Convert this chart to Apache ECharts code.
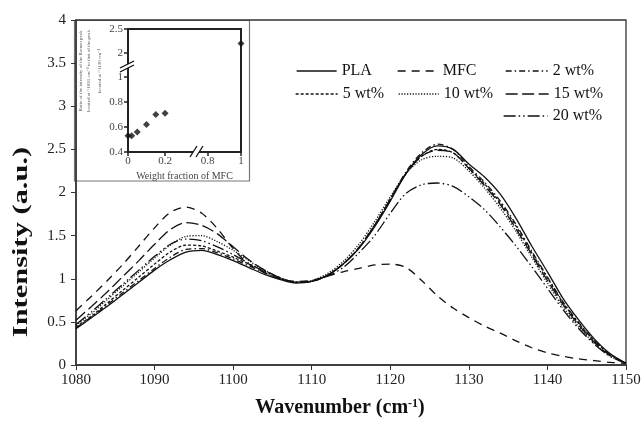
<!DOCTYPE html>
<html>
<head>
<meta charset="utf-8">
<script src="https://cdn.jsdelivr.net/npm/echarts@6/dist/echarts.min.js"></script>
<style>html,body{margin:0;padding:0;background:#fff}#c{width:644px;height:422px}</style>
</head>
<body>
<div id="c"></div>
<script>
// ---------- data ----------
const wavenumbers = [1080,1082,1084,1086,1088,1090,1092,1094,1096,1098,1100,1102,1104,1106,1108,1110,1112,1114,1116,1118,1120,1122,1124,1126,1128,1130,1132,1134,1136,1138,1140,1142,1144,1146,1148,1150];
const seriesNames = ['PLA','MFC','2 wt%','5 wt%','10 wt%','15 wt%','20 wt%'];
const pla    = [0.42,0.55,0.68,0.82,0.96,1.10,1.22,1.31,1.33,1.28,1.21,1.13,1.05,0.99,0.95,0.97,1.04,1.17,1.35,1.60,1.90,2.22,2.44,2.54,2.50,2.33,2.18,1.98,1.70,1.38,1.08,0.77,0.52,0.30,0.13,0.02];
const mfc    = [0.63,0.80,0.98,1.17,1.38,1.59,1.77,1.83,1.76,1.58,1.35,1.17,1.07,1.00,0.97,0.98,1.03,1.08,1.12,1.16,1.17,1.13,0.98,0.80,0.66,0.55,0.45,0.37,0.28,0.20,0.14,0.10,0.07,0.05,0.03,0.02];
const wt2    = [0.43,0.56,0.70,0.84,0.98,1.12,1.25,1.34,1.35,1.30,1.23,1.15,1.07,1.00,0.96,0.97,1.04,1.17,1.36,1.62,1.92,2.24,2.46,2.56,2.50,2.30,2.12,1.90,1.63,1.32,1.02,0.73,0.49,0.28,0.12,0.02];
const wt5    = [0.44,0.57,0.72,0.87,1.02,1.17,1.31,1.39,1.38,1.32,1.25,1.17,1.09,1.01,0.96,0.97,1.04,1.17,1.36,1.62,1.92,2.22,2.42,2.50,2.46,2.28,2.10,1.88,1.61,1.30,1.01,0.72,0.48,0.28,0.12,0.02];
const wt10   = [0.46,0.60,0.76,0.92,1.08,1.24,1.39,1.49,1.50,1.43,1.33,1.21,1.10,1.01,0.96,0.98,1.06,1.20,1.40,1.66,1.95,2.22,2.38,2.42,2.40,2.25,2.05,1.82,1.55,1.25,0.95,0.67,0.44,0.25,0.10,0.02];
const wt15   = [0.52,0.68,0.85,1.03,1.21,1.40,1.57,1.65,1.62,1.52,1.37,1.22,1.10,1.01,0.96,0.97,1.04,1.17,1.36,1.62,1.92,2.22,2.42,2.49,2.46,2.28,2.08,1.86,1.58,1.28,0.98,0.70,0.46,0.26,0.11,0.02];
const wt20   = [0.47,0.62,0.78,0.94,1.10,1.26,1.40,1.46,1.44,1.37,1.28,1.18,1.08,1.00,0.96,0.97,1.03,1.13,1.30,1.50,1.76,1.99,2.09,2.11,2.07,1.95,1.80,1.60,1.38,1.14,0.89,0.64,0.42,0.24,0.10,0.02];
const xTickMin = 1080, xTickMax = 1150, xTickStep = 10;
const yTickMin = 0, yTickMax = 4, yTickStep = 0.5;

// inset
const mfcFraction = [0, 0.02, 0.05, 0.1, 0.15, 0.2, 1];
const peakRatio   = [0.53, 0.53, 0.56, 0.62, 0.70, 0.71, 2.2];
const insetXTicks = [0, 0.2, 0.8, 1];
const insetYTicks = [0.4, 0.6, 0.8, 1, 2, 2.5];

// ---------- styles ----------
const SERIF = '"Liberation Serif","DejaVu Serif",serif';
const dashes = {
  'PLA': 'solid',
  'MFC': [8,6],
  '2 wt%': [6,3,1.5,3],
  '5 wt%': [3,2],
  '10 wt%': [1.2,1.6],
  '15 wt%': [12,4.5],
  '20 wt%': [12,3,1.5,3,1.5,3]
};
const allValues = [pla, mfc, wt2, wt5, wt10, wt15, wt20];

// broken-axis transforms for the inset
function ix(v){ return v <= 0.5 ? v : 0.43 + (v - 0.8) * 0.9; }
function iy(v){ return v <= 1.5 ? v : 1.192 + (v - 2) * 0.384; }

const series = seriesNames.map((n, i) => ({
  name: n, type: 'line', xAxisIndex: 0, yAxisIndex: 0,
  data: wavenumbers.map((w, k) => [w, allValues[i][k]]),
  smooth: 0.3, symbol: 'none', silent: true,
  itemStyle: { color: '#111' },
  lineStyle: { color: '#111', width: 1.3, type: dashes[n] }
}));
series.push({
  type: 'scatter', xAxisIndex: 1, yAxisIndex: 1, symbol: 'diamond', symbolSize: 7,
  itemStyle: { color: '#111' }, silent: true,
  data: mfcFraction.map((f, k) => [ix(f), iy(peakRatio[k])])
});

const legendPos = [
  ['PLA', 296, 63, 40], ['MFC', 397, 63, 40], ['2 wt%', 505, 63, 42],
  ['5 wt%', 295, 86, 42], ['10 wt%', 398, 86, 40], ['15 wt%', 505, 86, 43],
  ['20 wt%', 503, 108, 44]
];
const legends = legendPos.map(p => ({
  data: [p[0]], left: p[1], top: p[2], itemWidth: p[3], itemHeight: 14, padding: 0,
  selectedMode: false,
  itemStyle: { opacity: 0 },
  lineStyle: { color: '#111', width: 1.3, opacity: 1 },
  textStyle: { fontFamily: SERIF, fontSize: 16, color: '#111' }
}));

const insetXVals = insetXTicks.map(ix);
const insetYVals = insetYTicks.map(iy);

const option = {
  animation: false,
  backgroundColor: '#fff',
  legend: legends,
  grid: [
    { left: 76, right: 18, top: 20, bottom: 57, show: true, borderColor: '#333', borderWidth: 1.3, backgroundColor: 'transparent' },
    { left: 128, top: 29, width: 113, height: 123, show: true, borderColor: '#222', borderWidth: 2, backgroundColor: 'transparent' }
  ],
  xAxis: [
    { type: 'value', gridIndex: 0, min: xTickMin, max: xTickMax, interval: xTickStep,
      axisLine: { lineStyle: { color: '#333', width: 1.5 } },
      axisTick: { length: 5, lineStyle: { color: '#333' } },
      splitLine: { show: false },
      axisLabel: { fontFamily: SERIF, fontSize: 15, color: '#222', margin: 8, formatter: v => String(v) } },
    { type: 'value', gridIndex: 1, min: 0, max: ix(1),
      axisLine: { lineStyle: { color: '#222', width: 2 } },
      axisTick: { length: 4, customValues: insetXVals, lineStyle: { color: '#222', width: 1.5 } },
      splitLine: { show: false },
      axisLabel: { customValues: insetXVals, fontFamily: SERIF, fontSize: 11, color: '#444', margin: 4,
        formatter: v => { const k = insetXVals.findIndex(t => Math.abs(t - v) < 1e-6); return k >= 0 ? String(insetXTicks[k]) : ''; } },
      name: 'Weight fraction of MFC', nameLocation: 'middle', nameGap: 19,
      nameTextStyle: { fontFamily: SERIF, fontSize: 10, color: '#444' } }
  ],
  yAxis: [
    { type: 'value', gridIndex: 0, min: yTickMin, max: yTickMax, interval: yTickStep,
      axisLine: { show: true, lineStyle: { color: '#333', width: 1.5 } },
      axisTick: { show: true, length: 5, lineStyle: { color: '#333' } },
      splitLine: { show: false },
      axisLabel: { fontFamily: SERIF, fontSize: 15, color: '#222', margin: 10 } },
    { type: 'value', gridIndex: 1, min: 0.4, max: iy(2.5),
      axisLine: { show: true, lineStyle: { color: '#222', width: 2 } },
      axisTick: { show: true, length: 4, customValues: insetYVals, lineStyle: { color: '#222', width: 1.5 } },
      splitLine: { show: false },
      axisLabel: { customValues: insetYVals, fontFamily: SERIF, fontSize: 11, color: '#444', margin: 5,
        formatter: v => { const k = insetYVals.findIndex(t => Math.abs(t - v) < 1e-6); return k >= 0 ? String(insetYTicks[k]) : ''; } } }
  ],
  graphic: [
    { type: 'rect', z: -1, shape: { x: 74.5, y: 20.5, width: 175, height: 160.5 },
      style: { fill: '#fff', stroke: '#777', lineWidth: 1.2 } },
    // inset y-axis break
    { type: 'polygon', z: 100, shape: { points: [[120,68],[134,61],[134,65],[120,72]] }, style: { fill: '#fff' } },
    { type: 'line', z: 101, shape: { x1: 120, y1: 68, x2: 134, y2: 61 }, style: { stroke: '#111', lineWidth: 1.3 } },
    { type: 'line', z: 101, shape: { x1: 120, y1: 72, x2: 134, y2: 65 }, style: { stroke: '#111', lineWidth: 1.3 } },
    // inset x-axis break
    { type: 'polygon', z: 100, shape: { points: [[190,157],[197,146],[203,146],[196,157]] }, style: { fill: '#fff' } },
    { type: 'line', z: 101, shape: { x1: 190, y1: 157, x2: 197, y2: 146 }, style: { stroke: '#111', lineWidth: 1.3 } },
    { type: 'line', z: 101, shape: { x1: 196, y1: 157, x2: 203, y2: 146 }, style: { stroke: '#111', lineWidth: 1.3 } },
    // inset y label
    { type: 'text', z: 50, x: 81, y: 71, rotation: Math.PI / 2,
      style: { text: 'Ratio of the intensity of the Raman peak', font: '5px ' + SERIF, fill: '#555', align: 'center', verticalAlign: 'middle' } },
    { type: 'text', z: 50, x: 89, y: 71, rotation: Math.PI / 2,
      style: { text: 'located at ~1095 cm\u207B\u00B9 to that of the peak', font: '5px ' + SERIF, fill: '#555', align: 'center', verticalAlign: 'middle' } },
    { type: 'text', z: 50, x: 100, y: 71, rotation: Math.PI / 2,
      style: { text: 'located at ~1130 cm\u207B\u00B9', font: '5px ' + SERIF, fill: '#555', align: 'center', verticalAlign: 'middle' } },
    // main axis titles
    { type: 'text', z: 50, x: 22, y: 242, rotation: Math.PI / 2, scaleX: 1.45,
      style: { text: 'Intensity (a.u.)', font: 'bold 21px ' + SERIF, fill: '#111', align: 'center', verticalAlign: 'middle' } },
    { type: 'text', z: 50, x: 340, y: 408,
      style: { text: '{a|Wavenumber (cm}{s|-1}{a|)}', align: 'center', verticalAlign: 'middle', fill: '#111',
        rich: { a: { font: 'bold 20px ' + SERIF, fill: '#111' }, s: { font: 'bold 12px ' + SERIF, fill: '#111', verticalAlign: 'top', padding: [0,0,8,0] } } } }
  ],
  series: series
};
const chart = echarts.init(document.getElementById('c'), null, { renderer: 'canvas' });
chart.setOption(option);
</script>
</body>
</html>
